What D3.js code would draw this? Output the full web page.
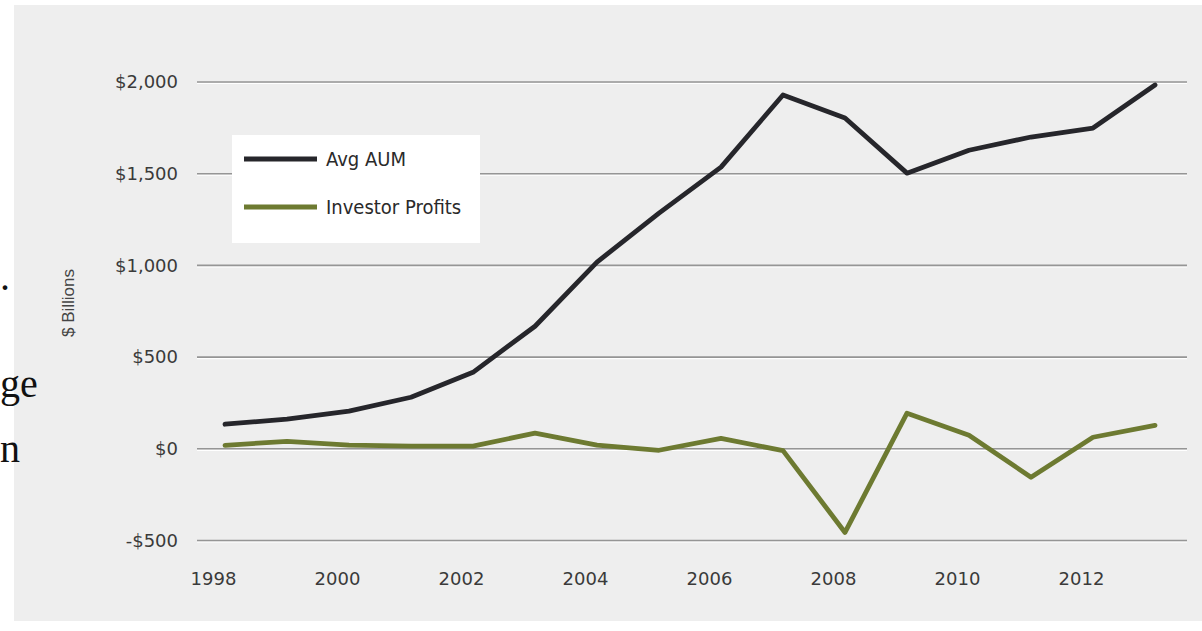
<!DOCTYPE html>
<html>
<head>
<meta charset="utf-8">
<script src="https://cdn.jsdelivr.net/npm/d3@7"></script>
<style>
  html, body { margin: 0; padding: 0; background: #ffffff; }
  svg { display: block; }
</style>
</head>
<body>
<svg id="chart" width="1202" height="631"></svg>
<script>
// Years on the horizontal axis
const years = [1998, 1999, 2000, 2001, 2002, 2003, 2004, 2005, 2006, 2007, 2008, 2009, 2010, 2011, 2012, 2013];
// Average assets under management, $ billions
const avgAUM = [134, 162, 205, 281, 417, 668, 1018, 1285, 1536, 1929, 1804, 1503, 1628, 1700, 1749, 1984];
// Investor profits, $ billions
const investorProfits = [19, 41, 20, 15, 15, 85, 20, -8, 57, -10, -456, 194, 74, -155, 63, 128];
// Axis ticks
const yTicks = [-500, 0, 500, 1000, 1500, 2000];
const yTickLabels = ["-$500", "$0", "$500", "$1,000", "$1,500", "$2,000"];
const xTicks = [1998, 2000, 2002, 2004, 2006, 2008, 2010, 2012];
const seriesNames = ["Avg AUM", "Investor Profits"];
const seriesColors = ["#26262b", "#6d7a31"];

const svg = d3.select("#chart");

// Chart panel
svg.append("rect")
  .attr("x", 14).attr("y", 5)
  .attr("width", 1202 - 14).attr("height", 616)
  .attr("fill", "#eeeeee");

// Page text running in from the left margin
const pageText = svg.append("g")
  .attr("font-family", "'Liberation Serif', 'DejaVu Serif', serif")
  .attr("font-size", 40)
  .attr("fill", "#111");
pageText.append("text").attr("x", 0).attr("y", 290).text(".");
pageText.append("text").attr("x", 0).attr("y", 397).text("ge");
pageText.append("text").attr("x", 0).attr("y", 462).text("n");

const x = d3.scaleLinear().domain([1998, 2013]).range([225, 1155]);
const y = d3.scaleLinear().domain([-500, 2000]).range([540.5, 82]);

const gridLeft = 197, gridRight = 1187;

// Horizontal gridlines with a light underline
const grid = svg.append("g");
grid.selectAll("line.hi")
  .data(yTicks)
  .join("line")
  .attr("class", "hi")
  .attr("x1", gridLeft).attr("x2", gridRight)
  .attr("y1", d => y(d) + 1.5).attr("y2", d => y(d) + 1.5)
  .attr("stroke", "#ffffff").attr("stroke-width", 1.2);
grid.selectAll("line.gl")
  .data(yTicks)
  .join("line")
  .attr("class", "gl")
  .attr("x1", gridLeft).attr("x2", gridRight)
  .attr("y1", d => y(d)).attr("y2", d => y(d))
  .attr("stroke", "#959595").attr("stroke-width", 1.6);

// Y axis labels
const yAxis = d3.axisLeft(y)
  .tickValues(yTicks)
  .tickFormat((d, i) => yTickLabels[i])
  .tickSize(0)
  .tickPadding(0);
const yg = svg.append("g")
  .attr("transform", "translate(178,0)")
  .call(yAxis);
yg.select(".domain").remove();
yg.selectAll("text")
  .attr("font-family", "'DejaVu Sans', sans-serif")
  .attr("font-size", 18)
  .attr("fill", "#3a3a3a");

// X axis labels
const xAxis = d3.axisBottom(x)
  .tickValues(xTicks)
  .tickFormat(d3.format("d"))
  .tickSize(0)
  .tickPadding(0);
const xg = svg.append("g")
  .attr("transform", "translate(-12,572)")
  .call(xAxis);
xg.select(".domain").remove();
xg.selectAll("text")
  .attr("font-family", "'DejaVu Sans', sans-serif")
  .attr("font-size", 18)
  .attr("fill", "#3a3a3a");

// Y axis title
svg.append("text")
  .attr("transform", "translate(74,303) rotate(-90)")
  .attr("text-anchor", "middle")
  .attr("font-family", "'Liberation Sans', Arial, sans-serif")
  .attr("font-size", 17)
  .attr("fill", "#444")
  .text("$ Billions");

// Series lines
const line = d3.line()
  .x((d, i) => x(years[i]))
  .y(d => y(d));

[avgAUM, investorProfits].forEach((vals, k) => {
  svg.append("path")
    .datum(vals)
    .attr("d", line)
    .attr("fill", "none")
    .attr("stroke", seriesColors[k])
    .attr("stroke-width", 4.8)
    .attr("stroke-linejoin", "round")
    .attr("stroke-linecap", "round");
});

// Legend
const legend = svg.append("g");
legend.append("rect")
  .attr("x", 232).attr("y", 135)
  .attr("width", 248).attr("height", 108)
  .attr("fill", "#ffffff");
seriesNames.forEach((name, k) => {
  const ly = 159 + k * 48;
  legend.append("line")
    .attr("x1", 244).attr("x2", 317)
    .attr("y1", ly).attr("y2", ly)
    .attr("stroke", seriesColors[k])
    .attr("stroke-width", 5);
  legend.append("text")
    .attr("x", 326).attr("y", ly + 7)
    .attr("font-family", "'Liberation Sans Narrow', 'Arial Narrow', 'DejaVu Sans Condensed', sans-serif")
    .attr("font-size", 20)
    .attr("fill", "#2a2a2a")
    .text(name);
});
</script>
</body>
</html>
